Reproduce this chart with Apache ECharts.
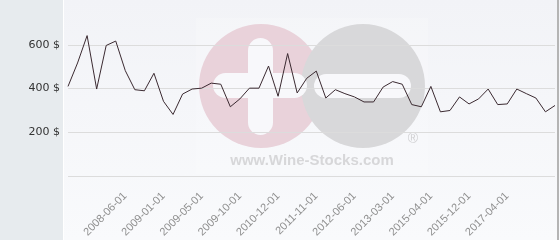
<!DOCTYPE html>
<html>
<head>
<meta charset="utf-8">
<script src="https://cdn.jsdelivr.net/npm/echarts@6/dist/echarts.min.js"></script>
<style>html,body{margin:0;padding:0;background:#f5f6f9;}#c{width:560px;height:240px;}</style>
</head>
<body>
<div id="c"></div>
<script>
const prices = [410, 517, 642, 398, 597, 617, 482, 395, 390, 470,
  342, 282, 375, 398, 402, 425, 420, 317, 353, 402,
  402, 503, 365, 560, 380, 447, 480, 357, 395, 377,
  362, 339, 339, 407, 432, 420, 327, 317, 410, 294,
  300, 362, 330, 353, 398, 327, 330, 398, 377, 357,
  294, 323];
const tickLabels = ['2008-06-01', '2009-01-01', '2009-05-01', '2009-10-01', '2010-12-01',
  '2011-11-01', '2012-06-01', '2013-03-01', '2015-04-01', '2015-12-01', '2017-04-01'];
const firstLabelIndex = 6;
const labelStep = 4;
const yTicks = [200, 400, 600];

const categories = prices.map((v, i) => {
  const k = (i - firstLabelIndex) / labelStep;
  return (k >= 0 && Number.isInteger(k) && k < tickLabels.length) ? tickLabels[k] : '';
});

const chart = echarts.init(document.getElementById('c'), null, {renderer: 'canvas'});
chart.setOption({
  animation: false,
  backgroundColor: 'transparent',
  graphic: [
    {type: 'rect', z: -10, shape: {x: 64, y: 0, width: 496, height: 240},
     style: {fill: new echarts.graphic.LinearGradient(0, 0, 0, 1, [{offset: 0, color: '#f2f3f7'}, {offset: 1, color: '#f9fafc'}])}},
    {type: 'rect', z: -10, shape: {x: 0, y: 0, width: 63, height: 240}, style: {fill: '#e7ebee'}},
    {type: 'rect', z: -10, shape: {x: 63, y: 0, width: 1, height: 240}, style: {fill: '#ffffff'}},
    {type: 'rect', z: -10, shape: {x: 557, y: 0, width: 2, height: 240}, style: {fill: '#b4b4b4'}},
    {type: 'rect', z: -9, shape: {x: 196, y: 18, width: 232, height: 156}, style: {fill: 'rgba(255,255,255,0.18)'}},
    {type: 'circle', z: -8, shape: {cx: 261, cy: 86, r: 62}, style: {fill: '#e9d2da'}},
    {type: 'circle', z: -8, shape: {cx: 363, cy: 86, r: 62}, style: {fill: '#d8d8da'}},
    {type: 'rect', z: -7, shape: {x: 248, y: 38, width: 25, height: 97, r: 12.5}, style: {fill: '#f8f8fb'}},
    {type: 'rect', z: -7, shape: {x: 213, y: 73, width: 94, height: 25, r: 12.5}, style: {fill: '#f8f8fb'}},
    {type: 'rect', z: -7, shape: {x: 314, y: 74, width: 97, height: 24, r: 12}, style: {fill: '#f8f8fb'}},
    {type: 'text', z: -7, style: {x: 312, y: 161, text: 'www.Wine-Stocks.com', fill: '#d7d7d9',
      font: 'bold 15px "Liberation Sans", Arial, sans-serif', textAlign: 'center', textVerticalAlign: 'middle'}},
    {type: 'text', z: -7, style: {x: 413, y: 139, text: '®', fill: '#d0d0d2',
      font: '14px "Liberation Sans", Arial, sans-serif', textAlign: 'center', textVerticalAlign: 'middle'}}
  ],
  grid: {left: 68, right: 5, top: 1, bottom: 62, containLabel: false},
  xAxis: {
    type: 'category',
    data: categories,
    boundaryGap: false,
    axisLine: {show: false},
    axisTick: {show: false},
    splitLine: {show: false},
    axisLabel: {
      interval: 0,
      rotate: 45,
      margin: 18,
      color: '#8f8f8f',
      fontSize: 11,
      fontFamily: '"Liberation Sans", Arial, sans-serif'
    }
  },
  yAxis: {
    type: 'value',
    min: 0,
    max: 800,
    interval: 200,
    axisLine: {show: false},
    axisTick: {show: false},
    splitLine: {show: true, lineStyle: {color: ['#dcdcdc', '#dcdcdc', '#dcdcdc', '#dcdcdc', 'rgba(0,0,0,0)'], width: 1}},
    axisLabel: {
      margin: 8,
      color: '#333333',
      fontSize: 11,
      fontFamily: '"DejaVu Sans", sans-serif',
      formatter: v => yTicks.indexOf(v) >= 0 ? v + ' $' : ''
    }
  },
  series: [{
    type: 'line',
    data: prices,
    symbol: 'none',
    lineStyle: {color: '#3b2a31', width: 1},
    z: 5
  }]
});
</script>
</body>
</html>
